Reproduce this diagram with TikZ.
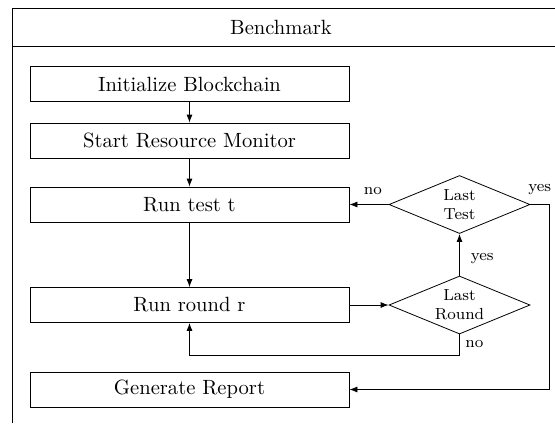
\documentclass[tikz,border=0pt]{standalone}
\usetikzlibrary{shapes.geometric,arrows.meta}
\tikzset{
  procbox/.style={draw, rectangle, minimum width=159.5pt, minimum height=17.5pt, inner sep=0pt, font=\fontsize{10.3}{12}\selectfont},
  decbox/.style={draw, diamond, aspect=2.4, inner sep=0pt, minimum width=70.5pt, minimum height=29pt, align=center, font=\footnotesize},
  lbl/.style={font=\footnotesize, inner sep=1.5pt},
  conn/.style={-{Latex[length=4pt,width=3pt]}},
  frameline/.style={line width=0.45pt}
}
\begin{document}
\begin{tikzpicture}[x=0.5pt,y=-0.5pt]
\useasboundingbox (0,0) rectangle (555,425);
\clip (0,0) rectangle (555,425);
% swimlane frame
\draw[frameline] (12,423) -- (12,8) -- (600,8);
\draw[frameline] (12,46) -- (600,46);
\node[font=\fontsize{10.3}{12}\selectfont] (title) at (281,27) {Benchmark};
% process boxes
\node[procbox] (init) at (189.5,84) {Initialize Blockchain};
\node[procbox] (mon) at (189.5,140.5) {Start Resource Monitor};
\node[procbox] (test) at (189.5,204.5) {Run test t};
\node[procbox] (round) at (189.5,305) {Run round r};
\node[procbox] (report) at (189.5,389.5) {Generate Report};
% decisions
\node[decbox] (lt) at (459.5,204.5) {Last\\Test};
\node[decbox] (lr) at (459.5,305) {Last\\Round};
\coordinate (c1) at (549,204.5);
\coordinate (c2) at (459.5,355);
% connectors
\draw[conn] (init) -- (mon);
\draw[conn] (mon) -- (test);
\draw[conn] (test) -- (round);
\draw[conn] (round.east) -- (lr.west);
\draw[conn] (lr.north) -- node[lbl, right=4pt, pos=0.4] {yes} (lt.south);
\draw[conn] (lt.west) -- node[lbl, above=3pt, pos=0.4] {no} (test.east);
\draw[conn] (lr.south) -- (c2) -| (round.south);
\node[lbl, anchor=west] (nolbl) at (462,344) {no};
\draw[conn] (lt.east) -- node[lbl, above=3pt] {yes} (c1) |- (report.east);
\end{tikzpicture}
\end{document}
